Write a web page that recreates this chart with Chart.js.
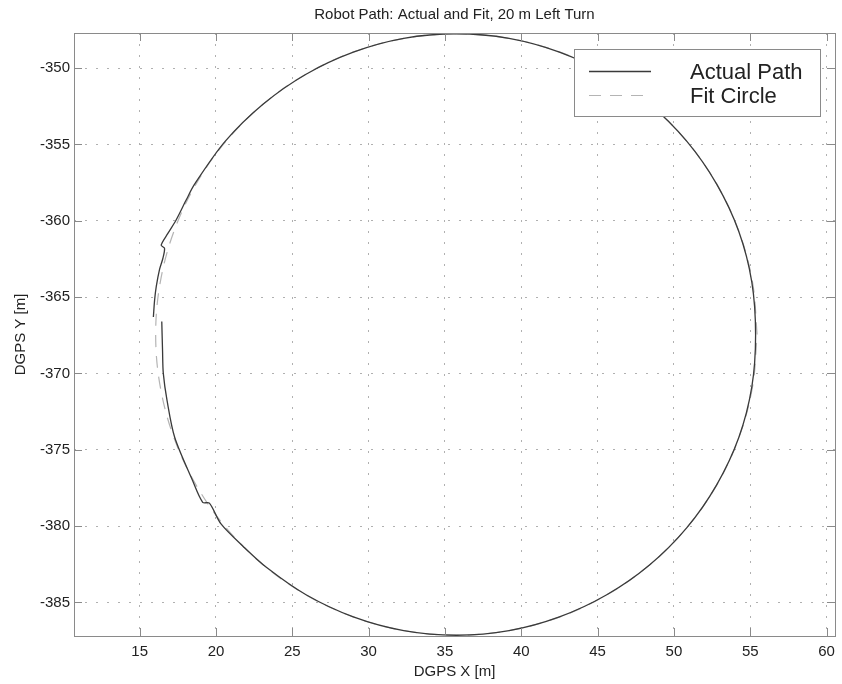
<!DOCTYPE html>
<html>
<head>
<meta charset="utf-8">
<script src="https://cdn.jsdelivr.net/npm/chart.js@4.4.1/dist/chart.umd.min.js"></script>
<style>
  html, body { margin: 0; padding: 0; background: #fff; }
  #wrap { width: 842px; height: 684px; }
</style>
</head>
<body>
<div id="wrap"><canvas id="pathChart"></canvas></div>
<script>
const chartTitle = 'Robot Path: Actual and Fit, 20 m Left Turn';
const xTitle = 'DGPS X [m]';
const yTitle = 'DGPS Y [m]';
const seriesNames = ['Actual Path', 'Fit Circle'];

const xTicks = [15, 20, 25, 30, 35, 40, 45, 50, 55, 60];
const yTicks = [-385, -380, -375, -370, -365, -360, -355, -350];
const xRange = [10.7, 60.55];
const yRange = [-387.2, -347.7];

// actual robot path (starts/ends at the left gap)
const pathX = [16.45, 16.50, 16.55, 16.80, 17.30, 18.46, 19.13, 19.57, 20.33, 21.80, 23.30, 25.90,
  29.00, 32.30, 35.75, 39.20, 42.50, 45.60, 48.40, 50.85, 52.80, 54.25, 55.10, 55.35,
  55.10, 54.25, 52.80, 50.85, 48.40, 45.60, 42.50, 39.20, 35.75, 32.30, 29.00, 25.90,
  23.10, 20.60, 18.60, 18.04, 17.39, 16.85, 16.41, 16.63, 16.52, 16.30, 16.09, 15.98, 15.90];
const pathY = [-366.60, -368.50, -370.00, -371.80, -374.20, -377.00, -378.44, -378.50, -379.86, -381.35, -382.70, -384.50,
  -385.95, -386.85, -387.15, -386.85, -385.95, -384.50, -382.55, -380.10, -377.30, -374.20, -370.90, -367.50,
  -364.00, -360.70, -357.60, -354.80, -352.35, -350.40, -348.95, -348.05, -347.75, -348.05, -348.95, -350.40,
  -352.35, -354.80, -357.60, -358.66, -359.95, -360.83, -361.60, -361.80, -362.47, -363.20, -364.30, -365.20, -366.30];

// fitted circle, points every 10 degrees
const fitX = [55.45, 55.15, 54.26, 52.81, 50.84, 48.41, 45.60, 42.49, 39.17, 35.75, 32.33, 29.01,
  25.90, 23.09, 20.66, 18.69, 17.24, 16.35, 16.05, 16.35, 17.24, 18.69, 20.66, 23.09,
  25.90, 29.01, 32.33, 35.75, 39.17, 42.49, 45.60, 48.41, 50.84, 52.81, 54.26, 55.15, 55.45];
const fitY = [-367.45, -364.03, -360.71, -357.60, -354.79, -352.36, -350.39, -348.94, -348.05, -347.75, -348.05, -348.94,
  -350.39, -352.36, -354.79, -357.60, -360.71, -364.03, -367.45, -370.87, -374.19, -377.30, -380.11, -382.54,
  -384.51, -385.96, -386.85, -387.15, -386.85, -385.96, -384.51, -382.54, -380.11, -377.30, -374.19, -370.87, -367.45];

const fontFamily = "'Liberation Sans', Arial, sans-serif";
const textColor = '#222';
const frameColor = '#8a8a8a';

const toPoints = (xs, ys) => xs.map((x, i) => ({ x: x, y: ys[i] }));

// box around the plot + inward tick marks on all four sides (matlab style)
const framePlugin = {
  id: 'frameAndTicks',
  afterDatasetsDraw(chart) {
    const { ctx, chartArea: a, scales } = chart;
    ctx.save();
    ctx.strokeStyle = frameColor;
    ctx.lineWidth = 1;
    ctx.beginPath();
    xTicks.forEach(v => {
      const px = Math.round(scales.x.getPixelForValue(v)) + 0.5;
      ctx.moveTo(px, a.bottom); ctx.lineTo(px, a.bottom - 8);
      ctx.moveTo(px, a.top); ctx.lineTo(px, a.top + 8);
    });
    yTicks.forEach(v => {
      const py = Math.round(scales.y.getPixelForValue(v)) + 0.5;
      ctx.moveTo(a.left, py); ctx.lineTo(a.left + 8, py);
      ctx.moveTo(a.right, py); ctx.lineTo(a.right - 8, py);
    });
    ctx.stroke();
    ctx.strokeRect(Math.round(a.left) + 0.5, Math.round(a.top) + 0.5,
      Math.round(a.right - a.left), Math.round(a.bottom - a.top));
    ctx.restore();
  }
};

// legend box in the upper right corner
const legendPlugin = {
  id: 'boxLegend',
  afterDraw(chart) {
    const ctx = chart.ctx;
    const box = { x: 574.5, y: 49.5, w: 246, h: 67 };
    ctx.save();
    ctx.fillStyle = '#fff';
    ctx.fillRect(box.x, box.y, box.w, box.h);
    ctx.strokeStyle = frameColor;
    ctx.lineWidth = 1;
    ctx.strokeRect(box.x, box.y, box.w, box.h);
    ctx.font = `22px ${fontFamily}`;
    ctx.textBaseline = 'middle';
    ctx.fillStyle = textColor;
    chart.data.datasets.forEach((ds, i) => {
      const y = 71.5 + i * 24;
      ctx.strokeStyle = ds.borderColor;
      ctx.lineWidth = ds.borderWidth;
      ctx.setLineDash(ds.borderDash || []);
      ctx.beginPath();
      ctx.moveTo(589, y);
      ctx.lineTo(651, y);
      ctx.stroke();
      ctx.setLineDash([]);
      ctx.fillText(ds.label, 690, y + 1);
    });
    ctx.restore();
  }
};

new Chart(document.getElementById('pathChart'), {
  type: 'scatter',
  data: {
    datasets: [
      {
        label: seriesNames[0],
        data: toPoints(pathX, pathY),
        showLine: true,
        borderColor: '#3a3a3a',
        borderWidth: 1.3,
        pointRadius: 0,
        tension: 0.3,
        order: 0
      },
      {
        label: seriesNames[1],
        data: toPoints(fitX, fitY),
        showLine: true,
        borderColor: '#b4b4b4',
        borderWidth: 1.2,
        borderDash: [12, 9],
        pointRadius: 0,
        tension: 0.35,
        order: 1
      }
    ]
  },
  options: {
    responsive: true,
    maintainAspectRatio: false,
    animation: false,
    layout: { padding: { left: 4, right: 1, top: 0, bottom: 3 } },
    plugins: {
      legend: { display: false },
      tooltip: { enabled: false },
      title: {
        display: true,
        fullSize: false,
        text: chartTitle,
        color: textColor,
        font: { family: fontFamily, size: 15, weight: 'normal' },
        padding: { top: 6, bottom: 9 }
      }
    },
    scales: {
      x: {
        type: 'linear',
        min: xRange[0],
        max: xRange[1],
        afterBuildTicks: (scale) => { scale.ticks = xTicks.map(v => ({ value: v })); },
        afterFit: (scale) => { scale.height = 45; },
        grid: { color: '#b0b0b0', lineWidth: 1, drawTicks: false },
        border: { display: false, dash: [2, 9] },
        ticks: {
          color: textColor,
          padding: 7,
          maxRotation: 0,
          font: { family: fontFamily, size: 15 }
        },
        title: {
          display: true,
          text: xTitle,
          color: textColor,
          font: { family: fontFamily, size: 15 },
          padding: { top: 0, bottom: 0 }
        }
      },
      y: {
        type: 'linear',
        min: yRange[0],
        max: yRange[1],
        afterBuildTicks: (scale) => { scale.ticks = yTicks.map(v => ({ value: v })); },
        afterFit: (scale) => { scale.width = 70; },
        grid: { color: '#b0b0b0', lineWidth: 1, drawTicks: false },
        border: { display: false, dash: [2, 9] },
        ticks: {
          color: textColor,
          padding: 4,
          font: { family: fontFamily, size: 15 }
        },
        title: {
          display: true,
          text: yTitle,
          color: textColor,
          font: { family: fontFamily, size: 15 },
          padding: { top: 8, bottom: 0 }
        }
      }
    }
  },
  plugins: [framePlugin, legendPlugin]
});
</script>
</body>
</html>
